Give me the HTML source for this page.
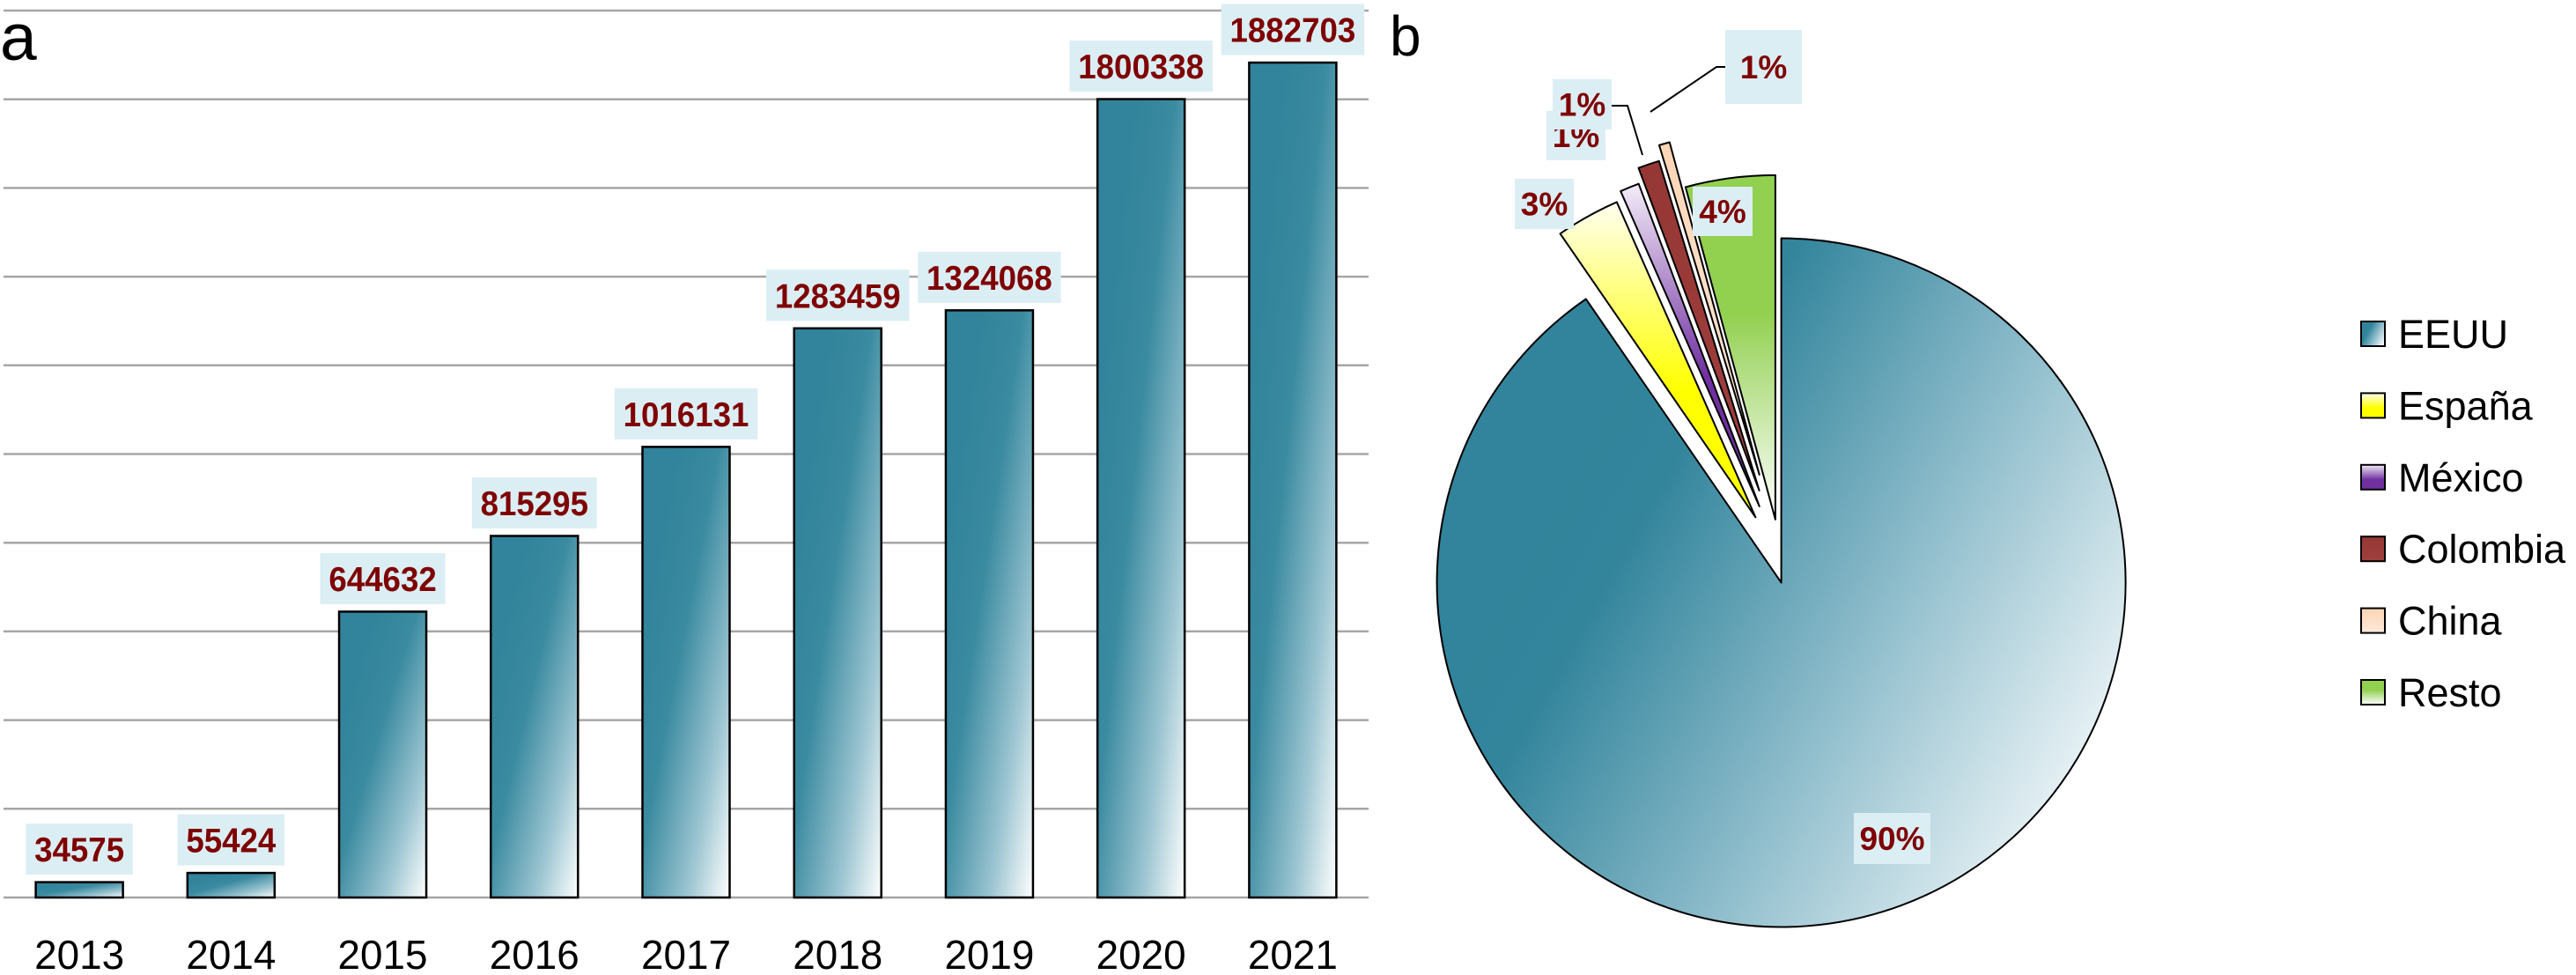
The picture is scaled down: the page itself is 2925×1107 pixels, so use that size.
<!DOCTYPE html>
<html><head><meta charset="utf-8">
<style>
html,body{margin:0;padding:0;background:#fff;}
svg{display:block;font-family:"Liberation Sans",sans-serif;}
</style></head>
<body>
<svg id="c" width="2925" height="1107" viewBox="0 0 2925 1107" xmlns="http://www.w3.org/2000/svg">
<defs>
<linearGradient id="barG" x1="0.2" y1="0.2" x2="1" y2="1">
<stop offset="0" stop-color="#31849b"/><stop offset="0.3" stop-color="#3a8aa0"/><stop offset="0.7" stop-color="#9ec6d2"/><stop offset="1" stop-color="#ffffff"/>
</linearGradient>
<linearGradient id="gEEUU" x1="0.2" y1="0.3" x2="1" y2="0.75">
<stop offset="0" stop-color="#31849b"/><stop offset="0.15" stop-color="#33859c"/><stop offset="0.55" stop-color="#8dbccb"/><stop offset="1" stop-color="#f2f8fa"/>
</linearGradient>
<linearGradient id="gEsp" x1="0" y1="1" x2="0" y2="0"><stop offset="0.4" stop-color="#ffff00"/><stop offset="1" stop-color="#fffff0"/></linearGradient>
<linearGradient id="gMex" x1="0" y1="1" x2="0" y2="0"><stop offset="0.4" stop-color="#7030a0"/><stop offset="1" stop-color="#f3ecf8"/></linearGradient>
<linearGradient id="gCol" x1="0" y1="0" x2="0" y2="1"><stop offset="0" stop-color="#953735"/><stop offset="1" stop-color="#a0403e"/></linearGradient>
<linearGradient id="gChi" x1="0" y1="0" x2="0" y2="1"><stop offset="0" stop-color="#fcd5b5"/><stop offset="1" stop-color="#fde9d9"/></linearGradient>
<linearGradient id="gRes" x1="0" y1="0" x2="0" y2="1"><stop offset="0.4" stop-color="#92d050"/><stop offset="1" stop-color="#ffffff"/></linearGradient>
</defs>
<text x="0" y="68" font-size="75">a</text>
<text x="1578" y="63" font-size="64">b</text>
<g id="bars"></g>
<g id="pie"></g>
<g id="legend"></g>
</svg>
<script>
const years = ["2013","2014","2015","2016","2017","2018","2019","2020","2021"];
const counts = [34575,55424,644632,815295,1016131,1283459,1324068,1800338,1882703];
const yMax = 2000000;
const yStep = 200000;

const countries = ["EEUU","España","México","Colombia","China","Resto"];
const shares = [90.4,3.0,0.9,1.0,0.5,4.2];

const NS="http://www.w3.org/2000/svg";
function mk(tag, attrs, parent){const e=document.createElementNS(NS,tag);for(const k in attrs)e.setAttribute(k,attrs[k]);parent.appendChild(e);return e;}

// Bar chart
const bars=document.getElementById('bars');
const plotL=4, plotR=1554, plotT=12, plotB=1019;
const yS=v=>plotB-(v/yMax)*(plotB-plotT);
const band=(plotR-plotL)/years.length;
const xC=i=>plotL+band*(i+0.5);
for(let v=0; v<=yMax+1; v+=yStep){
  const g=mk('line',{x1:plotL,x2:plotR,y1:yS(v),y2:yS(v),stroke:'#a6a6a6','stroke-width':2.5},bars);
  
  
}
const bw=99;
counts.forEach((v,i)=>{
  const y=yS(v);
  const r=mk('rect',{x:xC(i)-bw/2,y:y,width:bw,height:plotB-y,fill:'url(#barG)',stroke:'#000','stroke-width':2.5},bars);
  
  
  const s=String(v);
  const w=s.length*20.5+19;
  const b=mk('rect',{x:xC(i)-w/2,y:y-8.5-58,width:w,height:58,fill:'#dbeef4'},bars);
  
  
  const t=mk('text',{x:xC(i),y:y-8.5-15,'text-anchor':'middle','font-size':39,'font-weight':'bold',fill:'#7f0000',textLength:s.length*20.4,lengthAdjust:'spacingAndGlyphs'},bars);
  t.textContent=s;
  
  
  const yl=mk('text',{x:xC(i),y:1100,'text-anchor':'middle','font-size':46,fill:'#000',textLength:102,lengthAdjust:'spacingAndGlyphs'},bars);
  yl.textContent=years[i];
  
  
});

// Pie chart
const pie=document.getElementById('pie');
const cx=2022.6, cy=661.5, R=391;
const fills=['url(#gEEUU)','url(#gEsp)','url(#gMex)','url(#gCol)','url(#gChi)','url(#gRes)'];
const explode=[0,100,110,130,150,85];
const total=shares.reduce((a,b)=>a+b,0);
const labelBoxes=[[2105,923,87,58],[1720,203,67,57],[1756,126,67,56],[1763,90,67,57],[1959,34,87,84],[1922,212,68,56]];
let acc=0;
shares.forEach((v,i)=>{
  const a0=acc/total*2*Math.PI, a1=(acc+v)/total*2*Math.PI; acc+=v;
  const am=(a0+a1)/2;
  const ox=explode[i]*Math.sin(am)*0.6, oy=-explode[i]*Math.cos(am)*0.85;
  const px=cx+ox, py=cy+oy;
  const x0=px+R*Math.sin(a0), y0=py-R*Math.cos(a0), x1=px+R*Math.sin(a1), y1=py-R*Math.cos(a1);
  const large=(a1-a0)>Math.PI?1:0;
  const p=mk('path',{d:`M${px},${py} L${x0},${y0} A${R},${R} 0 ${large} 1 ${x1},${y1} Z`,fill:fills[i],stroke:'#000','stroke-width':2,'stroke-linejoin':'round'},pie);
  
  
});
const l1=mk('polyline',{points:'1959,76 1949,76 1874,127',fill:'none',stroke:'#000','stroke-width':2},pie);


const l2=mk('polyline',{points:'1830,120 1848,120 1865,176',fill:'none',stroke:'#000','stroke-width':2},pie);


[0,1,5,2,3,4].forEach(i=>{
  const [bx,by,bw2,bh]=labelBoxes[i];
  const b=mk('rect',{x:bx,y:by,width:bw2,height:bh,fill:'#dbeef4'},pie);
  
  
  const t=mk('text',{x:bx+bw2/2,y:by+bh/2+13,'text-anchor':'middle','font-size':37,'font-weight':'bold',fill:'#7f0000'},pie);
  t.textContent=Math.round(shares[i])+'%';
  
  
});

// Legend
const lg=document.getElementById('legend');
countries.forEach((c,i)=>{
  const y=379+i*81.4;
  const s=mk('rect',{x:2681,y:y-14,width:27,height:28,fill:fills[i],stroke:'#000','stroke-width':2},lg);
  
  
  const t=mk('text',{x:2723,y:y+16,'font-size':45,fill:'#000'},lg);
  t.textContent=c;
  
  
});
</script>
</body></html>
